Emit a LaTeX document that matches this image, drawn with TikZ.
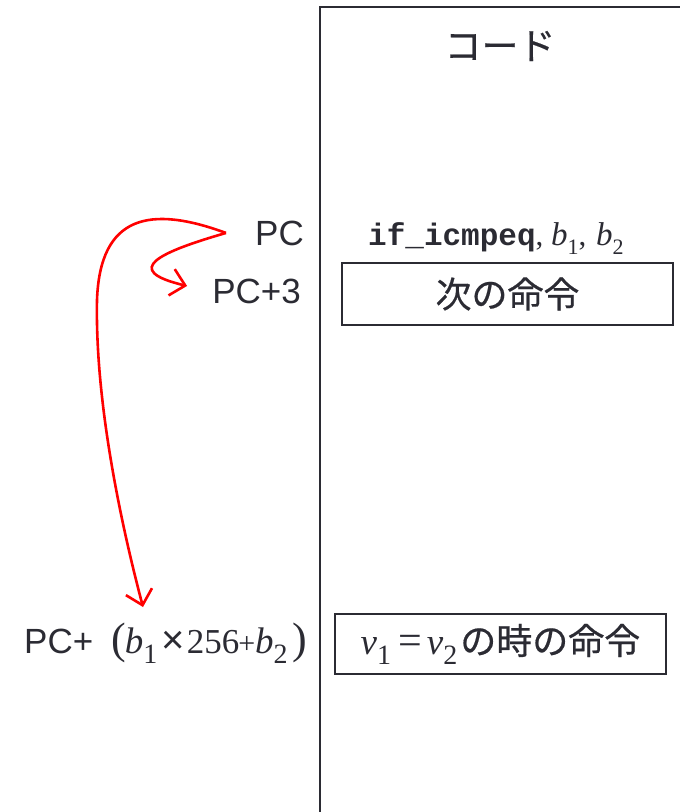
\documentclass[tikz,border=0pt]{standalone}
\usepackage{fontspec}
\setmainfont{Liberation Sans}
\newfontfamily\jpfont{Noto Sans CJK JP}[FakeBold=0.5]
\newfontfamily\serf{Liberation Serif}
\newfontfamily\monof{Liberation Mono}
\usetikzlibrary{arrows.meta}
\definecolor{ink}{HTML}{2B2B33}
\newcommand\fs[1]{\fontsize{#1}{#1}\selectfont}
% variables and subscripts, small size (instruction line)
\newcommand\vr[1]{{\serf\itshape\fs{33}#1}}
\newcommand\ix[1]{\raisebox{-0.3em}{\serf\fs{22}#1}}
% variables and subscripts, large size (formulas)
\newcommand\bigvar[1]{{\serf\itshape\fs{37}#1}}
\newcommand\bigsub[1]{\raisebox{-10pt}{\serf\fs{28}#1}}

\begin{document}
\begin{tikzpicture}[x=1pt,y=-1pt,
  txt/.style={text=ink, inner sep=0pt},
  codebox/.style={draw=ink, line width=1.8pt, inner sep=0pt, text=ink,
    font=\jpfont\fs{36}},
  jump/.style={draw=red, line width=2.6pt,
    -{Straight Barb[length=14pt,width=27pt]}}]

\useasboundingbox (0,0) rectangle (680,812);
\clip (0,0) rectangle (680,812);

% code area frame
\draw[ink, line width=1.8pt] (320,7) rectangle (720,840);

\node[txt, font=\jpfont\fs{37}] (title) at (500,46) {コード};

% addresses
\node[txt, font=\fs{35}, anchor=base east] (pc) at (304,245) {PC};
\node[txt, font=\fs{35}, anchor=base east] (pc3) at (301,303) {PC+3};
\node[txt, font=\fs{35}, anchor=base west] (target) at (24,653)
  {PC+\kern18pt{\serf\fs{44}(}\kern-1pt\bigvar{b}\bigsub{1}\kern4pt{\fs{40}×}\kern2pt{\serf\fs{35}256\kern-1pt{\fs{30}+}}\bigvar{b}\bigsub{2}\kern5pt{\serf\fs{44})}};

% instructions
\node[txt, anchor=base west] (instr) at (368,245)
  {{\monof\bfseries\fs{31}if\_icmpeq}{\serf\fs{31}, \vr{b}\ix{1},\kern2pt\ \vr{b}\ix{2}}};
\node[codebox, minimum width=331pt, minimum height=62pt] (next) at (507.5,294) {次の命令};
\node[codebox, minimum width=331pt, minimum height=60pt] (taken) at (500.5,644)
  {\bigvar{v}\bigsub{1}\kern7pt{\serf\fs{42}=}\kern5pt\bigvar{v}\bigsub{2}\kern3pt の時の命令};

% control flow
\draw[jump] ([xshift=-29pt]pc.west) .. controls (160,252) and (120,270)
  .. ([shift={(-25,-5)}]pc3.west);
\draw[jump] ([xshift=-29pt]pc.west) .. controls (150,205) and (100,215)
  .. (97,300) .. controls (95,400) and (120,520)
  .. ([shift={(119,-46)}]target.base west);
\end{tikzpicture}
\end{document}
